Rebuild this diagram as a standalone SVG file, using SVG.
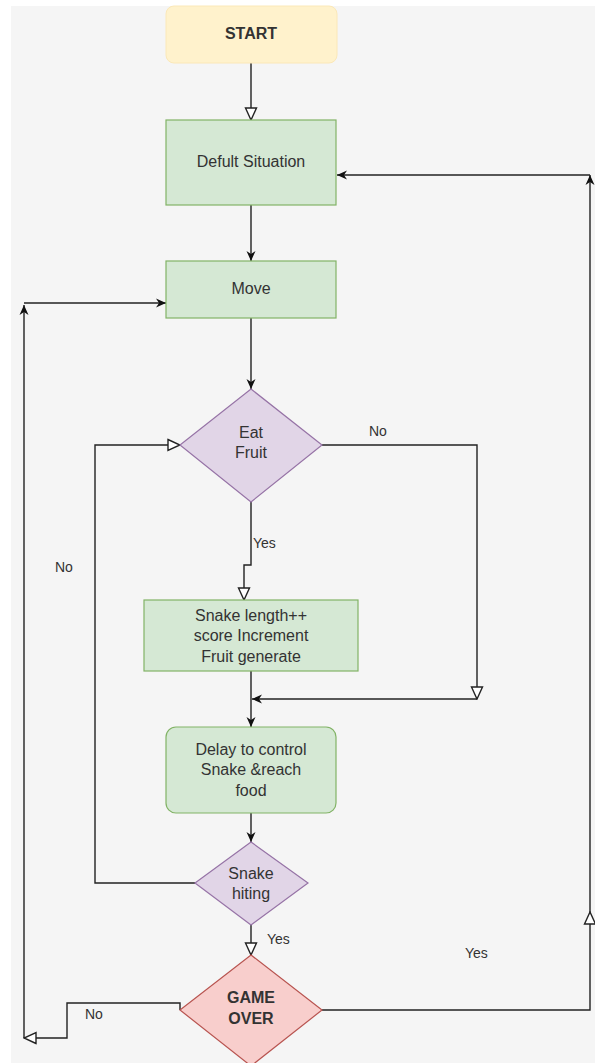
<svg xmlns="http://www.w3.org/2000/svg" width="595" height="1063" viewBox="0 0 595 1063">
<style>
.lbl{font-family:"Liberation Sans",Arial,sans-serif;font-size:16px;fill:#333;text-anchor:middle}
.b{font-weight:bold}
.sm{font-family:"Liberation Sans",Arial,sans-serif;font-size:14px;fill:#333}
.green{fill:#d5e8d4;stroke:#82b366;stroke-width:1.2}
.purple{fill:#e1d5e7;stroke:#9673a6;stroke-width:1.2}
.red{fill:#f8cecc;stroke:#b85450;stroke-width:1.2}
.edge{fill:none;stroke:#222;stroke-width:1.4}
</style>
<defs>
<marker id="open" markerUnits="userSpaceOnUse" markerWidth="14" markerHeight="14" refX="13" refY="6.5" orient="auto" viewBox="0 0 14 13">
<path d="M1,1 L13,6.5 L1,12 Z" fill="#fff" stroke="#222" stroke-width="1.4"/>
</marker>
<marker id="fill" markerUnits="userSpaceOnUse" markerWidth="11" markerHeight="10" refX="10" refY="5" orient="auto" viewBox="0 0 11 10">
<path d="M0,0.5 L10,5 L0,9.5 L3,5 Z" fill="#111"/>
</marker>
</defs>
<rect x="11" y="6" width="584" height="1057" fill="#f5f5f5"/>
<g id="connectors">
<path class="edge" d="M251,63 V120" marker-end="url(#open)"/>
<path class="edge" d="M251,205 V261" marker-end="url(#fill)"/>
<path class="edge" d="M251,318 V389" marker-end="url(#fill)"/>
<path class="edge" d="M251,502 V565 H244 V600" marker-end="url(#open)"/>
<path class="edge" d="M322,445 H477 V699" marker-end="url(#open)"/>
<path class="edge" d="M477,699 H252" marker-end="url(#fill)"/>
<path class="edge" d="M251,671 V727" marker-end="url(#fill)"/>
<path class="edge" d="M251,813 V842" marker-end="url(#fill)"/>
<path class="edge" d="M195,883 H95 V445 H180" marker-end="url(#open)"/>
<path class="edge" d="M251,925 V955" marker-end="url(#open)"/>
<path class="edge" d="M180,1010 V1003 H67 V1038 H24" marker-end="url(#open)"/>
<path class="edge" d="M24,1038 V305" marker-end="url(#fill)"/>
<path class="edge" d="M24,303 H166" marker-end="url(#fill)"/>
<path class="edge" d="M322,1010 H590 V912" marker-end="url(#open)"/>
<path class="edge" d="M590,912 V175" marker-end="url(#fill)"/>
<path class="edge" d="M590,175 H337" marker-end="url(#fill)"/>
<text class="sm" x="369" y="436">No</text>
<text class="sm" x="253" y="548">Yes</text>
<text class="sm" x="55" y="572">No</text>
<text class="sm" x="267" y="944">Yes</text>
<text class="sm" x="465" y="958">Yes</text>
<text class="sm" x="85" y="1019">No</text>
</g>
<g id="start">
<rect x="166" y="6" width="171" height="57" rx="8" fill="#fff2cc" stroke="#fbe8b8" stroke-width="1"/>
<text class="lbl b" x="251" y="39">START</text>
</g>
<g id="defult">
<rect class="green" x="166" y="120" width="170" height="85"/>
<text class="lbl" x="251" y="167">Defult Situation</text>
</g>
<g id="move">
<rect class="green" x="166" y="261" width="170" height="57"/>
<text class="lbl" x="251" y="294">Move</text>
</g>
<g id="eatfruit">
<polygon class="purple" points="251,389 322,445 251,502 180,445"/>
<text class="lbl" x="251" y="438">Eat</text>
<text class="lbl" x="251" y="458">Fruit</text>
</g>
<g id="grow">
<rect class="green" x="144" y="600" width="214" height="71"/>
<text class="lbl" x="251" y="621">Snake length++</text>
<text class="lbl" x="251" y="641">score Increment</text>
<text class="lbl" x="251" y="662">Fruit generate</text>
</g>
<g id="delay">
<rect class="green" x="166" y="727" width="170" height="86" rx="10"/>
<text class="lbl" x="251" y="755">Delay to control</text>
<text class="lbl" x="251" y="775">Snake &amp;reach</text>
<text class="lbl" x="251" y="796">food</text>
</g>
<g id="hiting">
<polygon class="purple" points="251,842 308,883 251,925 195,883"/>
<text class="lbl" x="251" y="879">Snake</text>
<text class="lbl" x="251" y="899">hiting</text>
</g>
<g id="gameover">
<polygon class="red" points="251,955 322,1010 251,1066 180,1010"/>
<text class="lbl b" x="251" y="1003">GAME</text>
<text class="lbl b" x="251" y="1024">OVER</text>
</g>
</svg>
